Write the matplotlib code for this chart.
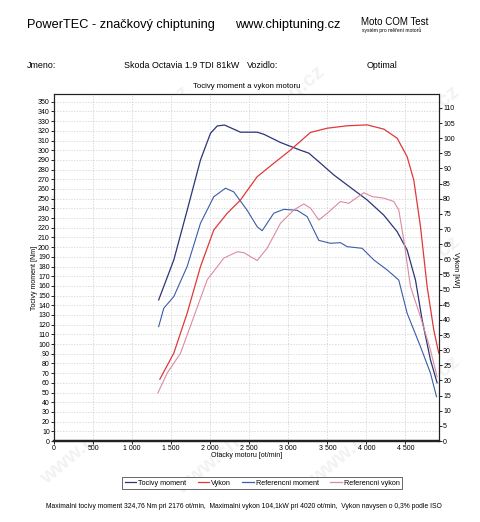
import matplotlib
matplotlib.use("Agg")
import matplotlib.pyplot as plt
import numpy as np

plt.rcParams['font.family'] = ['Liberation Sans', 'DejaVu Sans']

# ---- data ----
tm_rpm = [1340, 1534, 1705, 1876, 2004, 2090, 2183, 2388, 2602, 2686, 2900, 3156, 3263,
          3412, 3583, 3839, 4010, 4223, 4394, 4522, 4629, 4714, 4821, 4906]
tm_val = [145.5, 186.8, 238, 290, 317.5, 325, 326, 318.6, 318.6, 316.5, 308, 300, 297,
          286.6, 274.5, 259, 248.7, 233, 216, 197, 166, 125, 83.6, 60]

rm_rpm = [1340, 1406, 1534, 1705, 1876, 2046, 2196, 2302, 2474, 2602, 2666, 2814, 2942,
          3114, 3242, 3391, 3540, 3668, 3754, 3946, 4095, 4266, 4415, 4522, 4693, 4821, 4898]
rm_val = [118, 137, 149, 180, 224.7, 252, 260.8, 257, 238, 221, 217, 235, 239,
          238, 231.5, 207, 204, 204.6, 200.5, 198.8, 186.8, 176.5, 166, 131.8, 97.3, 69.9, 45.7]

vk_rpm = [1355, 1534, 1705, 1876, 2046, 2218, 2388, 2602, 2814, 3028, 3284, 3498, 3754,
          4010, 4223, 4394, 4522, 4607, 4693, 4778, 4863, 4927]
vk_val = [20.4, 29, 42.2, 57.6, 69.7, 75.2, 79.6, 87.3, 91.7, 96.1, 101.9, 103.3, 104.1,
          104.4, 103, 100, 93.9, 86.2, 70.8, 51, 36.7, 29]

rv_rpm = [1329, 1449, 1620, 1790, 1961, 2174, 2346, 2430, 2602, 2730, 2900, 3071, 3199,
          3284, 3391, 3498, 3668, 3775, 3967, 4074, 4223, 4351, 4415, 4479, 4565, 4693, 4821, 4906]
rv_val = [15.8, 22.4, 29, 41, 53.2, 60.4, 62.5, 62.2, 59.6, 63.7, 71.9, 76.3, 78.3,
          76.9, 73, 75.2, 79.1, 78.5, 82, 80.7, 80.2, 79.1, 76.3, 66.4, 51, 41, 30, 21.2]

x_ticks = list(range(0, 5000, 500))
x_tick_labels = ["0", "500", "1 000", "1 500", "2 000", "2 500", "3 000", "3 500", "4 000", "4 500"]
left_ticks = list(range(0, 360, 10))
right_ticks = list(range(0, 115, 5))

fig = plt.figure(figsize=(4.8, 5.22), dpi=100)
ax = fig.add_axes([54/480, 1-441/522, (439-54)/480, (441-94)/522])
ax2 = ax.twinx()

c_tm = '#2b3577'
c_rm = '#3b5ca8'
c_vk = '#e0383a'
c_rv = '#dd8aa0'

ax.plot(tm_rpm, tm_val, color=c_tm, lw=0.9)
ax.plot(rm_rpm, rm_val, color=c_rm, lw=0.8)
ax2.plot(vk_rpm, vk_val, color=c_vk, lw=0.9)
ax2.plot(rv_rpm, rv_val, color=c_rv, lw=0.8)

ax.set_xlim(0, 4930)
ax.set_ylim(0, 358)
ax2.set_ylim(0, 114.6)

ax.set_xticks(x_ticks)
ax.set_xticklabels(x_tick_labels)
ax.set_yticks(left_ticks)
ax2.set_yticks(right_ticks)
for a in (ax, ax2):
    a.tick_params(labelsize=5, length=2, width=0.6, pad=1)
ax.grid(True, color='#cccccc', lw=0.5, ls=(0, (2, 2)))
ax.set_axisbelow(True)

for a in (ax, ax2):
    for s in a.spines.values():
        s.set_linewidth(0.8)
        s.set_color('#222222')
    a.spines['bottom'].set_linewidth(1.6)

ax.set_xlabel("Otacky motoru [ot/min]", fontsize=5, labelpad=0)
fig.text(35/480, 1-278/522, "Tocivy moment [Nm]", fontsize=5, rotation=90,
         ha='center', va='center')
fig.text(456/480, 1-270/522, "Vykon [kW]", fontsize=5, rotation=270,
         ha='center', va='center')

# header texts
fig.text(27/480, 1-25/522, "PowerTEC - značkový chiptuning", fontsize=9.2, va='center', ha='left')
fig.text(235/480, 1-25/522, "www.chiptuning.cz", fontsize=9.3, va='center', ha='left')
fig.text(361/480, 1-22/522, "Moto COM Test", fontsize=7, va='center', ha='left')
fig.text(362/480, 1-30.5/522, "systém pro měření motorů", fontsize=3.6, va='center', ha='left')
fig.text(27/480, 1-65.5/522, "Jmeno:", fontsize=6.4, va='center', ha='left')
fig.text(124/480, 1-65.5/522, "Skoda Octavia 1.9 TDI 81kW", fontsize=6.4, va='center', ha='left')
fig.text(247/480, 1-65.5/522, "Vozidlo:", fontsize=6.4, va='center', ha='left')
fig.text(367/480, 1-65.5/522, "Optimal", fontsize=6.4, va='center', ha='left')
fig.text(247/480, 1-86.5/522, "Tocivy moment a vykon motoru", fontsize=5.6, va='center', ha='center')

# legend
handles = [plt.Line2D([], [], color=c_tm, lw=0.9), plt.Line2D([], [], color=c_vk, lw=0.9),
           plt.Line2D([], [], color=c_rm, lw=0.9), plt.Line2D([], [], color=c_rv, lw=0.9)]
labels = ["Tocivy moment", "Vykon", "Referencni moment", "Referencni vykon"]
leg = fig.legend(handles, labels, loc='center', bbox_to_anchor=(262/480, 1-483/522), ncol=4,
                 fontsize=5.2, frameon=True, fancybox=False, edgecolor='#222222',
                 handlelength=1.6, handletextpad=0.25, columnspacing=1.6,
                 borderpad=0.3, borderaxespad=0)
leg.get_frame().set_linewidth(0.6)

fig.text(46/480, 1-507/522,
         "Maximalni tocivy moment 324,76 Nm pri 2176 ot/min,  Maximalni vykon 104,1kW pri 4020 ot/min,  Vykon navysen o 0,3% podle ISO",
         fontsize=4.85, va='center', ha='left')

# watermark
for (wx, wy) in [(115, 150), (250, 130), (385, 150), (115, 300), (250, 290), (385, 300),
                 (115, 420), (250, 430), (385, 420)]:
    fig.text(wx/480, 1-wy/522, "www.chiptuning.cz", fontsize=15, fontweight='bold',
             color='#000000', alpha=0.055, rotation=40, ha='center', va='center', zorder=-5)

fig.savefig("out.png", dpi=100, facecolor='white')
